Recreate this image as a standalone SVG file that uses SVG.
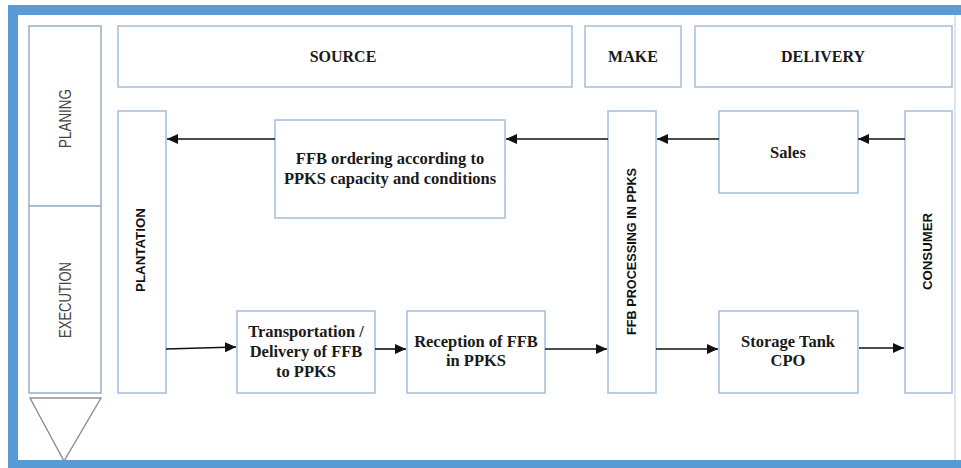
<svg xmlns="http://www.w3.org/2000/svg" width="961" height="468" viewBox="0 0 961 468">
  <style>
    .box { fill: #ffffff; stroke: #a9c1dc; stroke-width: 1.6; }
    .lane { fill: #ffffff; stroke: #9fb3c8; stroke-width: 1.6; }
    .head { font-family: "Liberation Serif", "Times New Roman", serif; font-weight: bold; font-size: 16px; fill: #1a1a1a; text-anchor: middle; }
    .lbl { font-family: "Liberation Serif", "Times New Roman", serif; font-weight: bold; font-size: 16.5px; fill: #1a1a1a; text-anchor: middle; }
    .vlane { font-family: "Liberation Sans", Arial, sans-serif; font-size: 16px; fill: #444; text-anchor: middle; }
    .vbold { font-family: "Liberation Sans", Arial, sans-serif; font-weight: bold; font-size: 12.5px; fill: #111; text-anchor: middle; }
    .arrow { fill: none; stroke: #111; stroke-width: 1.6; marker-end: url(#tip); }
  </style>
  <defs>
    <marker id="tip" markerUnits="userSpaceOnUse" markerWidth="11" markerHeight="10" refX="11" refY="5" orient="auto">
      <path d="M0,0 L11,5 L0,10 Z" fill="#111"/>
    </marker>
  </defs>

  <!-- page background and blue frame -->
  <rect x="0" y="0" width="961" height="468" fill="#ffffff"/>
  <rect x="8" y="5" width="953" height="10" fill="#5b9bd5"/>
  <rect x="8" y="5" width="10" height="463" fill="#5b9bd5"/>
  <rect x="8" y="460" width="953" height="8" fill="#5b9bd5"/>
  <line x1="955" y1="15" x2="955" y2="460" stroke="#d3dde8" stroke-width="1.5"/>

  <!-- planning / execution lanes -->
  <g id="planing">
    <rect class="lane" x="29" y="26" width="72" height="180"/>
    <text class="vlane" transform="translate(71,118.5) rotate(-90)" textLength="59" lengthAdjust="spacingAndGlyphs">PLANING</text>
  </g>
  <g id="execution">
    <rect class="lane" x="29" y="206" width="72" height="187"/>
    <text class="vlane" transform="translate(71,300) rotate(-90)" textLength="76" lengthAdjust="spacingAndGlyphs">EXECUTION</text>
  </g>
  <g id="flow-direction">
    <polygon points="30,398 101,398 64,461" fill="none" stroke="#8a8f96" stroke-width="1.4"/>
  </g>

  <!-- column headers -->
  <g id="source">
    <rect class="box" x="118" y="26" width="454" height="61"/>
    <text class="head" x="343" y="62">SOURCE</text>
  </g>
  <g id="make">
    <rect class="box" x="585" y="26" width="96" height="61"/>
    <text class="head" x="633" y="62">MAKE</text>
  </g>
  <g id="delivery">
    <rect class="box" x="695" y="26" width="257" height="61"/>
    <text class="head" x="823" y="62">DELIVERY</text>
  </g>

  <!-- process nodes -->
  <g id="plantation">
    <rect class="box" x="118" y="111" width="48" height="282"/>
    <text class="vbold" transform="translate(145,250) rotate(-90)" textLength="84" lengthAdjust="spacingAndGlyphs">PLANTATION</text>
  </g>
  <g id="ffb-ordering">
    <rect class="box" x="275" y="120" width="230" height="98"/>
    <text class="lbl" x="390" y="164">FFB ordering according to</text>
    <text class="lbl" x="390" y="184">PPKS capacity and conditions</text>
  </g>
  <g id="ffb-processing">
    <rect class="box" x="608" y="111" width="48" height="282"/>
    <text class="vbold" transform="translate(636,251.5) rotate(-90)" textLength="167" lengthAdjust="spacingAndGlyphs">FFB PROCESSING IN PPKS</text>
  </g>
  <g id="sales">
    <rect class="box" x="719" y="111" width="139" height="82"/>
    <text class="lbl" x="788" y="158">Sales</text>
  </g>
  <g id="consumer">
    <rect class="box" x="905" y="111" width="47" height="282"/>
    <text class="vbold" transform="translate(932,251.5) rotate(-90)" textLength="77" lengthAdjust="spacingAndGlyphs">CONSUMER</text>
  </g>
  <g id="transportation">
    <rect class="box" x="237" y="311" width="138" height="82"/>
    <text class="lbl" x="306" y="337">Transportation /</text>
    <text class="lbl" x="306" y="357">Delivery of FFB</text>
    <text class="lbl" x="306" y="377">to PPKS</text>
  </g>
  <g id="reception">
    <rect class="box" x="407" y="311" width="138" height="82"/>
    <text class="lbl" x="476" y="347">Reception of FFB</text>
    <text class="lbl" x="476" y="366">in PPKS</text>
  </g>
  <g id="storage-tank">
    <rect class="box" x="719" y="311" width="139" height="82"/>
    <text class="lbl" x="788" y="347">Storage Tank</text>
    <text class="lbl" x="788" y="366">CPO</text>
  </g>

  <!-- connectors -->
  <g id="connectors">
    <line class="arrow" x1="905" y1="139" x2="858" y2="139"/>
    <line class="arrow" x1="719" y1="139" x2="657" y2="139"/>
    <line class="arrow" x1="608" y1="139" x2="506" y2="139"/>
    <line class="arrow" x1="275" y1="139" x2="167" y2="139"/>
    <line class="arrow" x1="166" y1="349" x2="236" y2="347"/>
    <line class="arrow" x1="375" y1="349" x2="406" y2="349"/>
    <line class="arrow" x1="545" y1="349" x2="607" y2="349"/>
    <line class="arrow" x1="656" y1="349" x2="718" y2="349"/>
    <line class="arrow" x1="859" y1="348" x2="904" y2="348"/>
  </g>
</svg>
